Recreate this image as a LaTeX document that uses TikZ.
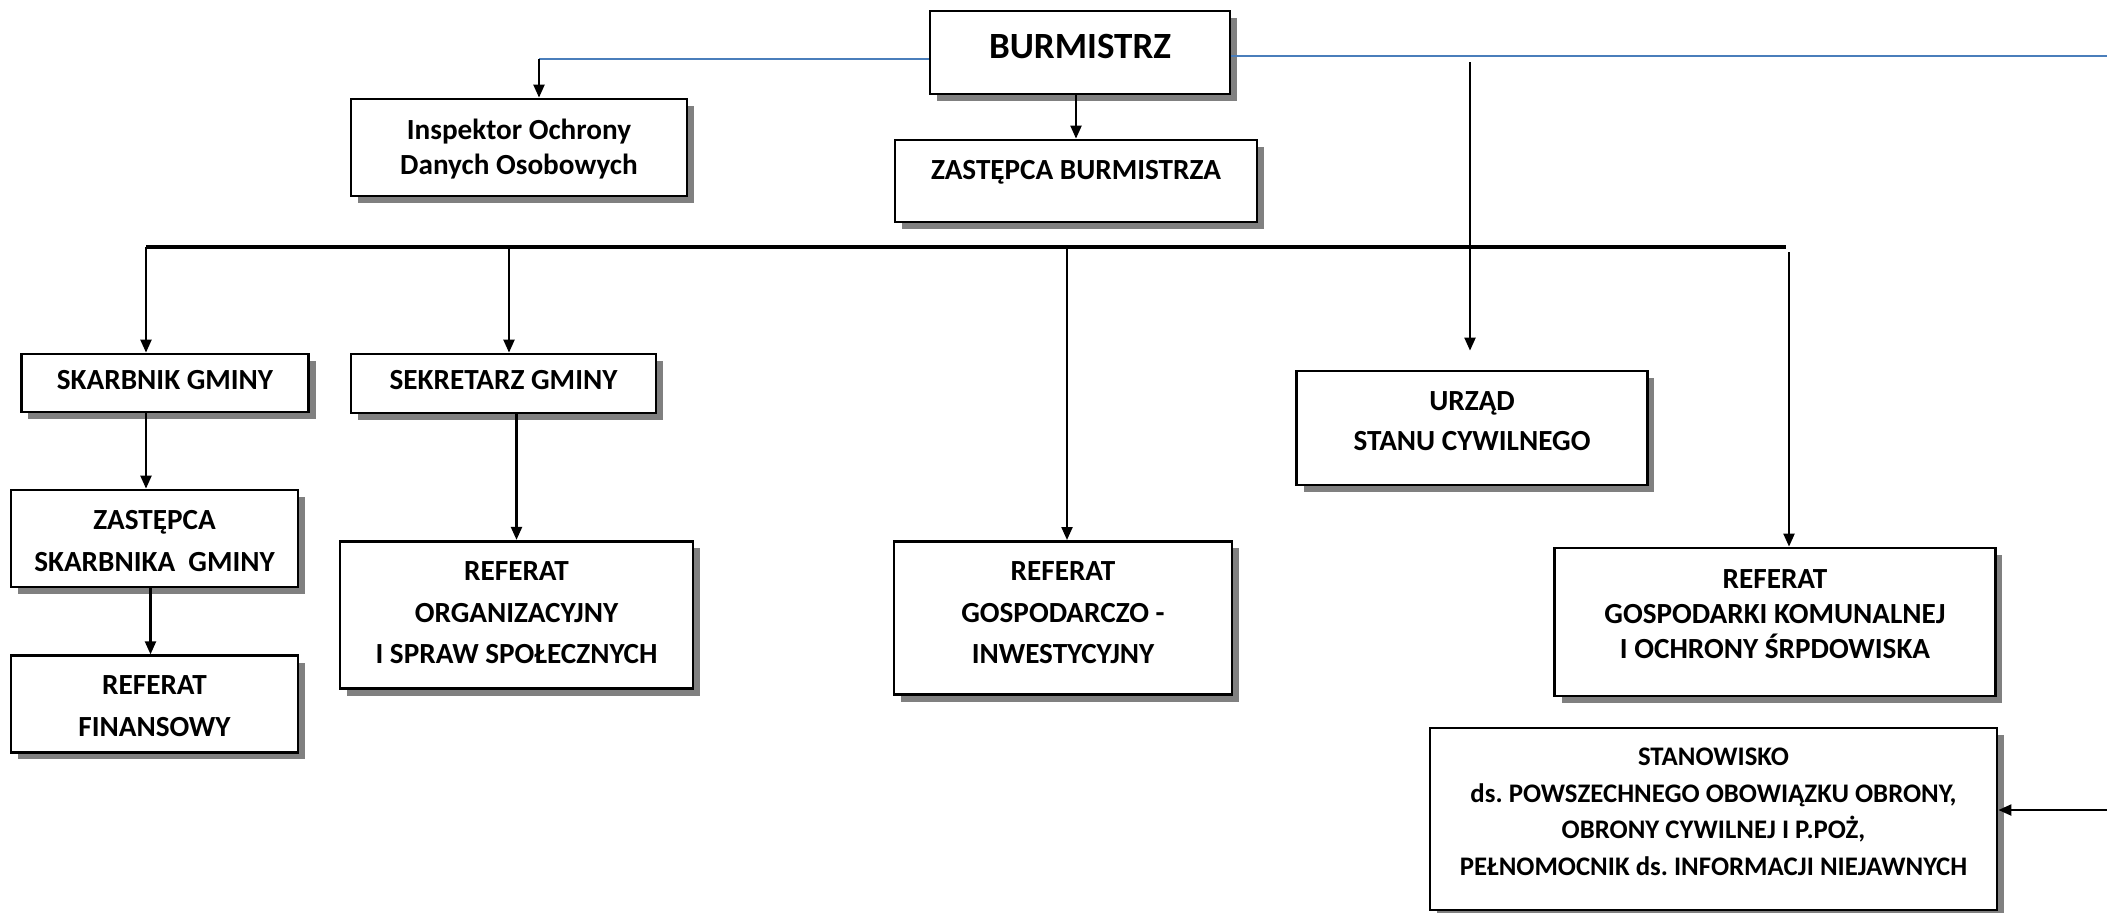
\documentclass[tikz,border=0pt]{standalone}
\usepackage{fontspec}
\setmainfont{Carlito}
\usetikzlibrary{arrows.meta,shadows}
\definecolor{lineblue}{RGB}{74,126,187}
\frenchspacing
\newcommand\txtBody{\fontsize{14.6pt}{20.8pt}\selectfont\bfseries}
\newcommand\txtTight{\fontsize{14.6pt}{17.5pt}\selectfont\bfseries}
\newcommand\txtBig{\fontsize{18.5pt}{22pt}\selectfont\bfseries}
\newcommand\txtSmall{\fontsize{13.4pt}{18.3pt}\selectfont\bfseries}
\begin{document}
\begin{tikzpicture}[x=0.5pt,y=-0.5pt,
  box/.style={draw=black, line width=1.4pt, fill=white, inner sep=0pt,
    drop shadow={shadow xshift=3.5pt, shadow yshift=-3.5pt, fill=black!50, opacity=1}},
  lbl/.style={align=center, inner sep=0pt},
  conn/.style={draw=black, line width=1.1pt, -{Triangle[length=6.5pt,width=5.5pt]}},
  blueline/.style={draw=lineblue, line width=1.1pt},
  bus/.style={draw=black, line width=1.6pt}]
\useasboundingbox (0,0) rectangle (2107,912);

% boxes
\node[box, minimum width=150pt, minimum height=41.5pt] (burm) at (1080,52.5) {};
\node[lbl, font=\txtBig] (burmT) at (1080,46.5) {BURMISTRZ};

\node[box, minimum width=168pt, minimum height=48.5pt] (insp) at (519,147.5) {};
\node[lbl, font=\txtTight] (inspT) at (519,149) {Inspektor Ochrony\\Danych Osobowych};

\node[box, minimum width=181pt, minimum height=41pt] (zb) at (1076,181) {};
\node[lbl, font=\txtBody] (zbT) at (1076,172) {ZASTĘPCA BURMISTRZA};

\node[box, minimum width=143.75pt, minimum height=29pt] (skarb) at (165,383) {};
\node[lbl, font=\txtBody] (skarbT) at (165,380) {SKARBNIK GMINY};

\node[box, minimum width=152.5pt, minimum height=29.5pt] (sekr) at (503.5,383.5) {};
\node[lbl, font=\txtBody] (sekrT) at (503.5,380) {SEKRETARZ GMINY};

\node[box, minimum width=143.5pt, minimum height=48.5pt] (zsk) at (154.5,538.5) {};
\node[lbl, font=\txtBody] (zskT) at (154.5,541) {ZASTĘPCA\\SKARBNIKA~ GMINY};

\node[box, minimum width=143.5pt, minimum height=48.25pt] (rfin) at (154.5,704) {};
\node[lbl, font=\txtBody] (rfinT) at (154.5,706) {REFERAT\\FINANSOWY};

\node[box, minimum width=176.5pt, minimum height=73.75pt] (rorg) at (516.5,615) {};
\node[lbl, font=\txtBody] (rorgT) at (516.5,613) {REFERAT\\ORGANIZACYJNY\\I SPRAW SPOŁECZNYCH};

\node[box, minimum width=169pt, minimum height=76.6pt] (rgi) at (1063,618) {};
\node[lbl, font=\txtBody] (rgiT) at (1063,613) {REFERAT\\GOSPODARCZO -\\INWESTYCYJNY};

\node[box, minimum width=175.25pt, minimum height=57pt] (usc) at (1472,428) {};
\node[lbl, font=\fontsize{14.6pt}{20.1pt}\selectfont\bfseries] (uscT) at (1472,421) {URZĄD\\STANU CYWILNEGO};

\node[box, minimum width=220.25pt, minimum height=74pt] (rgk) at (1775,622) {};
\node[lbl, font=\txtTight] (rgkT) at (1775,614) {REFERAT\\GOSPODARKI KOMUNALNEJ\\I OCHRONY ŚRPDOWISKA};

\node[box, minimum width=283.5pt, minimum height=91pt] (stan) at (1713.5,819) {};
\node[lbl, font=\txtSmall] (stanT) at (1713.5,811.6) {STANOWISKO\\ds. POWSZECHNEGO OBOWIĄZKU OBRONY,\\OBRONY CYWILNEJ I P.POŻ,\\PEŁNOMOCNIK ds. INFORMACJI NIEJAWNYCH};

% connectors
\coordinate (bl) at (539,59);
\draw[blueline] (burm.west |- bl) -- (bl);
\draw[conn] (bl) -- (bl |- insp.north);
\coordinate (br) at (2107,56);
\draw[blueline] (burm.east |- br) -- (br);
\draw[conn] (zb.north |- burm.south) -- (zb.north);

\coordinate (uTop) at (1470,62);
\draw[conn, shorten >=9.5pt] (uTop) -- (uTop |- usc.north);

\coordinate (busL) at (146,247);
\coordinate (busR) at (1786,247);
\draw[bus] (busL) -- (busR);
\draw[conn] (busL) -- (busL |- skarb.north);
\coordinate (k2) at (509,247);
\draw[conn] (k2) -- (k2 |- sekr.north);
\coordinate (k3) at (1067,247);
\draw[conn] (k3) -- (k3 |- rgi.north);
\coordinate (k4) at (1789,252);
\draw[conn] (k4) -- (k4 |- rgk.north);

\draw[conn] (busL |- skarb.south) -- (busL |- zsk.north);
\coordinate (k6) at (150.5,0);
\draw[conn] (k6 |- zsk.south) -- (k6 |- rfin.north);
\draw[conn] (rorg.north |- sekr.south) -- (rorg.north);

\coordinate (sr) at (2107,810);
\draw[conn] (sr) -- (sr -| stan.east);
\end{tikzpicture}
\end{document}
